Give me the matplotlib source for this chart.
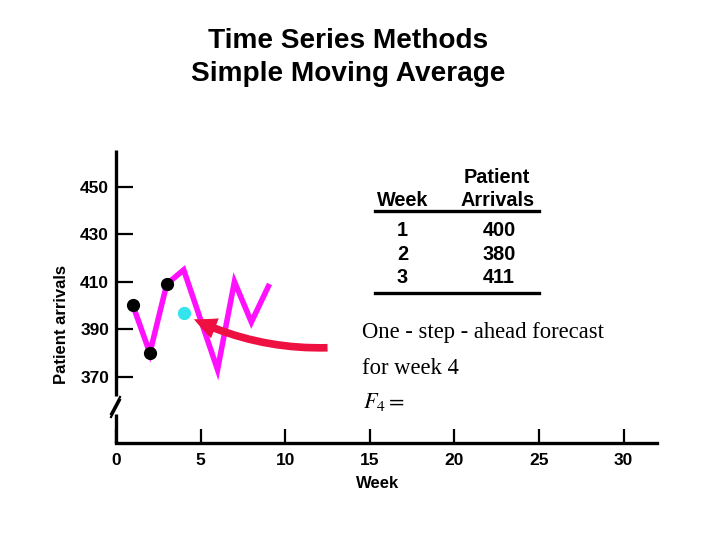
import matplotlib
matplotlib.use("Agg")
import matplotlib.pyplot as plt
from matplotlib.lines import Line2D
from matplotlib.patches import FancyArrowPatch

# ---- data ----
weeks = [1, 2, 3, 4, 6, 7, 8, 9]
arrivals = [400, 380, 409, 415, 373, 410, 393, 408]
known_weeks = [1, 2, 3]
known_arrivals = [400, 380, 409]
forecast_week = [4]
forecast_value = [397]
x_ticks = [0, 5, 10, 15, 20, 25, 30]
y_ticks = [370, 390, 410, 430, 450]
table_weeks = ["1", "2", "3"]
table_arrivals = ["400", "380", "411"]
arrow_from = (12.5, 382.2)
arrow_to = (4.6, 394.2)

plt.rcParams['font.family'] = ['Liberation Sans', 'DejaVu Sans']
plt.rcParams['mathtext.fontset'] = 'stix'

fig = plt.figure(figsize=(7.2, 5.4), dpi=100)
fig.patch.set_facecolor('white')
ax = fig.add_axes([116/720, 1-443/540, 540.5/720, 293/540])
ax.set_xlim(0, 31.94)
ax.set_ylim(342.1, 465.45)

for s in ['top', 'right', 'left']:
    ax.spines[s].set_visible(False)
ax.spines['bottom'].set_linewidth(2.4)

# left spine with break
lk = dict(color='black', lw=2.4, transform=ax.transAxes, clip_on=False, solid_capstyle='butt')
ax.add_line(Line2D([0, 0], [0.160, 1.0], **lk))
ax.add_line(Line2D([0, 0], [0.0, 0.098], **lk))
px = 1/540.5
py = 1/293
for off in [0, 3]:
    ax.add_line(Line2D([-5*px, 4*px],
                       [(443-414)*py - off*py, (443-397)*py - off*py],
                       color='black', lw=1.6, transform=ax.transAxes, clip_on=False))

ax.set_xticks(x_ticks)
ax.set_xticklabels([str(v) for v in x_ticks], fontsize=12.5, fontweight='bold')
ax.set_yticks(y_ticks)
ax.set_yticklabels([str(v) for v in y_ticks], fontsize=12.5, fontweight='bold')
ax.tick_params(axis='x', direction='in', length=10, width=1.6, pad=7)
ax.tick_params(axis='y', direction='in', length=12.5, width=1.6, pad=5)

# data marks
ax.plot(weeks, arrivals, color='#ff10ff', lw=4.0, solid_joinstyle='miter', zorder=2)
ax.plot(known_weeks, known_arrivals, 'o', color='black', ms=8.5, zorder=3)
ax.plot(forecast_week, forecast_value, 'o', color='#33e4ec', ms=8.5, zorder=3)

arr = FancyArrowPatch(posA=arrow_from, posB=arrow_to,
                      arrowstyle='simple,head_length=1.5,head_width=1.4,tail_width=0.5',
                      connectionstyle='arc3,rad=-0.12', mutation_scale=11,
                      color='#ee1040', lw=0, shrinkA=0, shrinkB=0, zorder=4)
ax.add_patch(arr)

# labels
fig.text(378/720, 1-487.7/540, 'Week', ha='center', va='baseline', fontsize=12, fontweight='bold')
fig.text(62/720, 1-324/540, 'Patient arrivals', ha='center', va='center', rotation=90,
         fontsize=12, fontweight='bold')

# title
fig.text(348/720, 1-47.5/540, 'Time Series Methods', ha='center', va='baseline', fontsize=20.2, fontweight='bold')
fig.text(348/720, 1-81/540, 'Simple Moving Average', ha='center', va='baseline', fontsize=20.2, fontweight='bold')

# table
tk = dict(ha='center', va='baseline', fontsize=14.3, fontweight='bold')
fig.text(402.5/720, 1-206/540, 'Week', **tk)
fig.text(497/720, 1-182.7/540, 'Patient', **tk)
fig.text(498/720, 1-206/540, 'Arrivals', **tk)
row_base = [236, 259.5, 282.7]
for wk, av, yb in zip(table_weeks, table_arrivals, row_base):
    fig.text(402.5/720, 1-yb/540, wk, **tk)
    fig.text(499/720, 1-yb/540, av, **tk)
fig.add_artist(Line2D([375/720, 539/720], [1-211.5/540, 1-211.5/540], color='black', lw=2.4))
fig.add_artist(Line2D([375/720, 539/720], [1-293/540, 1-293/540], color='black', lw=2.4))

# serif text
sk = dict(ha='left', va='baseline', fontsize=16.3, family='Liberation Serif')
fig.text(361.7/720, 1-338.3/540, 'One - step - ahead forecast', **sk)
fig.text(361.7/720, 1-374/540, 'for week 4', **sk)
fig.text(362.7/720, 1-408.3/540, r'$F_4 =$', ha='left', va='baseline', fontsize=16)

fig.savefig('out.png', dpi=100)
